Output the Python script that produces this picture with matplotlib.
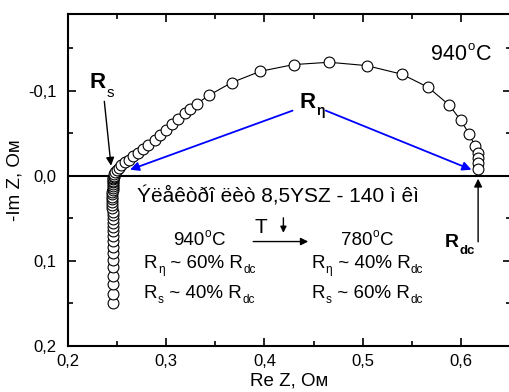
import matplotlib
matplotlib.use("Agg")
import matplotlib.pyplot as plt
from matplotlib.ticker import MultipleLocator, FuncFormatter

plt.rcParams['font.family'] = ['Liberation Sans', 'DejaVu Sans']

# Impedance spectrum at 940 C: real part and imaginary part (Ohm)
re_z = [0.2465, 0.2465, 0.2464, 0.2464, 0.2463, 0.2463, 0.2462, 0.2462,
        0.2461, 0.2461, 0.2460, 0.2460, 0.2459, 0.2459, 0.2458, 0.2458,
        0.2457, 0.2457, 0.2457, 0.2457, 0.2457, 0.2457, 0.2457, 0.2458,
        0.2458, 0.2459, 0.2460, 0.2461, 0.2463, 0.2465, 0.2467, 0.2469,
        0.2472, 0.2477, 0.2487, 0.2503, 0.2523, 0.2548, 0.2584, 0.2627,
        0.2668, 0.2719, 0.2770, 0.2820, 0.2888, 0.2939, 0.3000, 0.3058,
        0.3125, 0.3193, 0.3249, 0.3312, 0.3437, 0.3667, 0.3959, 0.4299,
        0.4658, 0.5038, 0.5399, 0.5663, 0.5876, 0.5995, 0.6083, 0.6137,
        0.6168, 0.6171, 0.6171, 0.6171]
im_z = [0.1494, 0.1388, 0.1276, 0.1176, 0.1076, 0.0988, 0.0906, 0.0835,
        0.0765, 0.0706, 0.0653, 0.0600, 0.0553, 0.0506, 0.0465, 0.0424,
        0.0382, 0.0347, 0.0312, 0.0276, 0.0247, 0.0218, 0.0188, 0.0165,
        0.0141, 0.0118, 0.0094, 0.0076, 0.0059, 0.0041, 0.0024, 0.0012,
        0.0000, -0.0018, -0.0041, -0.0065, -0.0094, -0.0124, -0.0156, -0.0188,
        -0.0227, -0.0267, -0.0314, -0.0359, -0.0418, -0.0476, -0.0541, -0.0606,
        -0.0667, -0.0735, -0.0788, -0.0844, -0.0945, -0.1094, -0.1227, -0.1306,
        -0.1333, -0.1294, -0.1192, -0.1039, -0.0832, -0.0651, -0.0486, -0.0353,
        -0.0267, -0.0208, -0.0149, -0.0079]

x_ticks_major = 0.1
y_ticks_major = 0.1
x_range = (0.2, 0.65)
y_range = (0.2, -0.19)


def comma_fmt(v, pos):
    s = f"{v:.1f}"
    if s == "-0.0":
        s = "0.0"
    return s.replace('.', ',')


def rich_text(ax, x, y, parts):
    """Draw a run of text pieces on one baseline; each piece is
    (string, fontsize, weight, vertical offset in points)."""
    first, size, weight, dy = parts[0]
    prev = ax.annotate(first, xy=(x, y), xycoords='data',
                       xytext=(0, dy), textcoords='offset points',
                       fontsize=size, fontweight=weight, va='baseline',
                       ha='left')
    for s, size, weight, dy in parts[1:]:
        prev = ax.annotate(s, xy=(1, y), xycoords=(prev, 'data'),
                           xytext=(0.3, dy), textcoords='offset points',
                           fontsize=size, fontweight=weight, va='baseline',
                           ha='left')
    return prev


fig = plt.figure(figsize=(5.09, 3.92), dpi=100)
ax = fig.add_axes([67.5 / 509, 46 / 392, 443 / 509, 332 / 392])

ax.set_xlim(*x_range)
ax.set_ylim(*y_range)
ax.axhline(0, color='black', lw=1.5, zorder=1)

ax.plot(re_z, im_z, '-', color='black', lw=0.8, marker='o', ms=7.8,
        mfc='white', mec='black', mew=0.8, zorder=3)

for sp in ax.spines.values():
    sp.set_linewidth(1.5)

ax.xaxis.set_major_locator(MultipleLocator(x_ticks_major))
ax.xaxis.set_minor_locator(MultipleLocator(x_ticks_major / 2))
ax.yaxis.set_major_locator(MultipleLocator(y_ticks_major))
ax.yaxis.set_minor_locator(MultipleLocator(y_ticks_major / 2))
ax.xaxis.set_major_formatter(FuncFormatter(comma_fmt))
ax.yaxis.set_major_formatter(FuncFormatter(comma_fmt))
ax.tick_params(which='both', direction='in', top=True, right=True,
               labelsize=12, width=1.2)
ax.tick_params(which='major', length=6)
ax.tick_params(which='minor', length=3.5)
ax.tick_params(axis='y', pad=8)
ax.tick_params(axis='x', pad=6)

ax.set_xlabel('Re Z, Ом', fontsize=13.5, labelpad=2)
ax.set_ylabel('-Im Z, Ом', fontsize=13.5, labelpad=3)

# Series resistance marker
ax.annotate('', xy=(0.2442, -0.0118), xytext=(0.2374, -0.0874),
            arrowprops=dict(arrowstyle='-|>', color='black', lw=1.0,
                            mutation_scale=12, shrinkA=0, shrinkB=0))
rich_text(ax, 0.2228, -0.1035, [('R', 16, 'bold', 0), ('s', 11, 'normal', -6.5)])

# Polarisation resistance span
for tip, start in [((0.2635, -0.0071), (0.4286, -0.0765)),
                   ((0.6103, -0.0071), (0.4624, -0.0765))]:
    ax.annotate('', xy=tip, xytext=start,
                arrowprops=dict(arrowstyle='-|>', color='blue', lw=1.3,
                                mutation_scale=13, shrinkA=0, shrinkB=0))
rich_text(ax, 0.4360, -0.080, [('R', 16, 'bold', 0), ('η', 10, 'bold', -5)])

# DC resistance marker
ax.annotate('', xy=(0.6171, 0.0035), xytext=(0.6171, 0.0776),
            arrowprops=dict(arrowstyle='-|>', color='black', lw=1.0,
                            mutation_scale=12, shrinkA=0, shrinkB=0))
rich_text(ax, 0.5832, 0.0835, [('R', 14, 'bold', 0), ('dc', 9.5, 'bold', -5.5)])

rich_text(ax, 0.5697, -0.1365, [('940', 15.5, 'normal', 0), ('o', 9.5, 'normal', 7),
                                ('C', 15.5, 'normal', 0)])

ax.text(0.2706, 0.0318, 'Ýëåêòðî ëèò 8,5YSZ - 140 ì êì', fontsize=15,
        ha='left', va='baseline')

# Temperature decrease
ax.text(0.3904, 0.067, 'T', fontsize=15, ha='left', va='baseline')
ax.annotate('', xy=(0.4193, 0.067), xytext=(0.4193, 0.0494),
            arrowprops=dict(arrowstyle='-|>', color='black', lw=1.0,
                            mutation_scale=9, shrinkA=0, shrinkB=0))
ax.annotate('', xy=(0.4445, 0.0773), xytext=(0.3886, 0.0773),
            arrowprops=dict(arrowstyle='-|>', color='black', lw=1.0,
                            mutation_scale=11, shrinkA=0, shrinkB=0))

rich_text(ax, 0.3070, 0.0812, [('940', 13.5, 'normal', 0), ('o', 8.5, 'normal', 6),
                               ('C', 13.5, 'normal', 0)])
rich_text(ax, 0.4775, 0.0812, [('780', 13.5, 'normal', 0), ('o', 8.5, 'normal', 6),
                               ('C', 13.5, 'normal', 0)])

for x0, eta_pct, s_pct in [(0.2777, '60', '40'), (0.4479, '40', '60')]:
    rich_text(ax, x0, 0.1082, [('R', 13.5, 'normal', 0), ('η', 8.5, 'normal', -4),
                               (f' ~ {eta_pct}% R', 13.5, 'normal', 0),
                               ('dc', 8.5, 'normal', -4)])
    rich_text(ax, x0, 0.1435, [('R', 13.5, 'normal', 0), ('s', 8.5, 'normal', -4),
                               (f' ~ {s_pct}% R', 13.5, 'normal', 0),
                               ('dc', 8.5, 'normal', -4)])

fig.savefig('out.png', dpi=100)
